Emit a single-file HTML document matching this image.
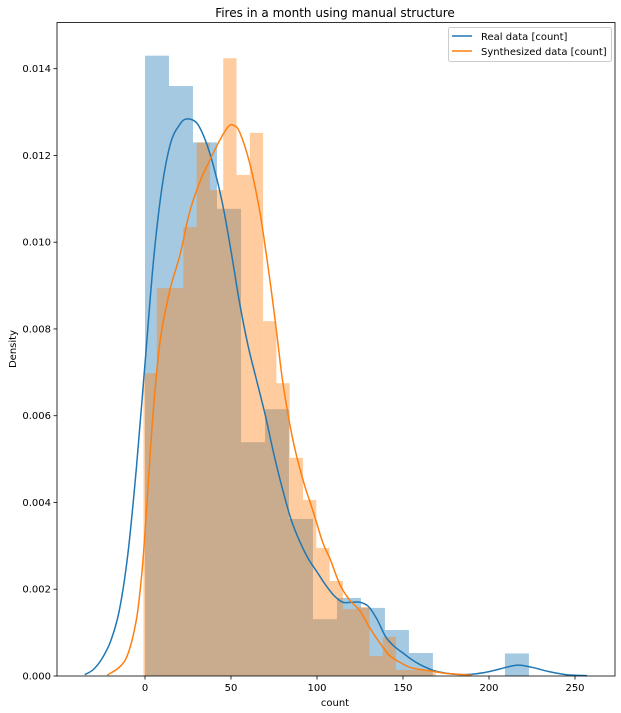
<!DOCTYPE html>
<html><head><meta charset="utf-8"><style>
body{margin:0;background:#fff;}
svg{display:block;font-family:"DejaVu Sans","Liberation Sans",sans-serif;}
</style></head><body>
<svg id="chart" width="621" height="713" xmlns="http://www.w3.org/2000/svg">
<rect x="0" y="0" width="621" height="713" fill="#fff"/>
<text x="335" y="17" text-anchor="middle" font-size="12">Fires in a month using manual structure</text>
<g id="bars"></g><g id="lines"></g><g id="axes"></g>
<text x="335" y="706" text-anchor="middle" font-size="10">count</text>
<text transform="translate(16,349) rotate(-90)" text-anchor="middle" font-size="10">Density</text>
<g>
<rect x="448.5" y="27.5" width="163" height="34" rx="2" fill="#fff" fill-opacity="0.8" stroke="#ccc"/>
<line x1="452" y1="36" x2="472" y2="36" stroke="#1f77b4" stroke-width="1.5"/>
<text x="481" y="40" font-size="10">Real data [count]</text>
<line x1="452" y1="51" x2="472" y2="51" stroke="#ff7f0e" stroke-width="1.5"/>
<text x="481" y="55" font-size="10">Synthesized data [count]</text>
</g>
</svg>
<script>
const realBinStart = 0, realBinWidth = 13.95;
const realHist = [0.0143,0.0136,0.0123,0.01077,0.00539,0.00615,0.00362,0.00131,0.0018,0.00157,0.00106,0.00053,0,0,0,0.00052];
const synthBinStart = -0.9, synthBinWidth = 7.73;
const synthHist = [0.00698,0.00894,0.00894,0.01035,0.0123,0.0112,0.01424,0.01155,0.01252,0.00818,0.00675,0.00503,0.00406,0.00295,0.00219,0.00154,0.00159,0.00046,0.0009,0.00014,0.00014,0.00014];
const realKdeX = [-35,-30,-25,-20,-15,-10,-5,0,5,10,15,20,24,30,35,40,45,50,55,60,65,70,75,80,85,90,95,100,105,110,115,120,125,130,135,140,145,150,155,160,165,170,180,190,200,210,217,225,235,245,257];
const realKdeY = [0.00003,0.00015,0.0004,0.0008,0.0015,0.0028,0.0048,0.0072,0.0096,0.0113,0.0123,0.0127,0.01284,0.01275,0.01236,0.01173,0.0109,0.0098,0.0086,0.0076,0.0068,0.006,0.0051,0.0043,0.0036,0.0031,0.0027,0.0024,0.0021,0.00185,0.0017,0.0017,0.0017,0.0016,0.0013,0.0009,0.00068,0.00053,0.00038,0.00026,0.00017,0.0001,0.00004,0.00004,0.0001,0.0002,0.00025,0.0002,0.0001,0.00003,0.00001];
const synthKdeX = [-22,-15,-10,-5,-2,0,2,4.6,8.7,14.5,20.3,26,32,37.8,43.6,48.3,51.2,55,61,66.9,72.7,76.6,80.2,86,92,97.7,103.5,107.6,113.4,119,125,130.8,136.6,142,148,154,160,165.7,175,190];
const synthKdeY = [0.00002,0.0002,0.0005,0.0013,0.0023,0.0033,0.0045,0.006,0.0077,0.0089,0.0097,0.0107,0.0114,0.0119,0.01236,0.01266,0.0127,0.01254,0.0118,0.01067,0.0091,0.0079,0.00675,0.00544,0.0045,0.0038,0.00306,0.0027,0.0021,0.00175,0.0015,0.0011,0.00076,0.00048,0.00032,0.0002,0.00015,0.00012,0.00006,0.00002];
const xTicks = [0,50,100,150,200,250];
const yTicks = [0,0.002,0.004,0.006,0.008,0.010,0.012,0.014];
const yTickLabels = ["0.000","0.002","0.004","0.006","0.008","0.010","0.012","0.014"];

const L=57, R=615, T=22.5, B=676;
function sx(v){return 145 + v*1.72;}
function sy(v){return 676 - v*43380;}
const NS="http://www.w3.org/2000/svg";
function mk(tag, attrs, parent){const e=document.createElementNS(NS,tag);for(const k in attrs)e.setAttribute(k,attrs[k]);parent.appendChild(e);return e;}
const bars=document.getElementById('bars'), lines=document.getElementById('lines'), axes=document.getElementById('axes');

realHist.forEach((h,i)=>{
  if(h<=0) return;
  const x0=sx(realBinStart+i*realBinWidth), x1=sx(realBinStart+(i+1)*realBinWidth);
  const r=mk('rect',{x:x0,y:sy(h),width:x1-x0,height:sy(0)-sy(h),fill:'#1f77b4','fill-opacity':0.4},bars);
  
  
});
synthHist.forEach((h,i)=>{
  if(h<=0) return;
  const x0=sx(synthBinStart+i*synthBinWidth), x1=sx(synthBinStart+(i+1)*synthBinWidth);
  const r=mk('rect',{x:x0,y:sy(h),width:x1-x0,height:sy(0)-sy(h),fill:'#ff7f0e','fill-opacity':0.4},bars);
  
  
});
function path(xs,ys){
  const p=xs.map((x,i)=>[sx(x),sy(ys[i])]);
  let d='M'+p[0][0]+','+p[0][1];
  for(let i=0;i<p.length-1;i++){
    const p0=p[Math.max(0,i-1)],p1=p[i],p2=p[i+1],p3=p[Math.min(p.length-1,i+2)];
    const c1x=p1[0]+(p2[0]-p0[0])/6,c1y=p1[1]+(p2[1]-p0[1])/6;
    const c2x=p2[0]-(p3[0]-p1[0])/6,c2y=p2[1]-(p3[1]-p1[1])/6;
    d+=' C'+c1x+','+c1y+' '+c2x+','+c2y+' '+p2[0]+','+p2[1];
  }
  return d;
}
const lr=mk('path',{d:path(realKdeX,realKdeY),fill:'none',stroke:'#1f77b4','stroke-width':1.5},lines);


const ls=mk('path',{d:path(synthKdeX,synthKdeY),fill:'none',stroke:'#ff7f0e','stroke-width':1.5},lines);



mk('rect',{x:L,y:T,width:R-L,height:B-T,fill:'none',stroke:'#000','stroke-width':0.8},axes);
xTicks.forEach(t=>{
  const x=sx(t);
  mk('line',{x1:x,y1:B,x2:x,y2:B+3.5,stroke:'#000','stroke-width':0.8},axes);
  const tx=mk('text',{x:x,y:B+15,'text-anchor':'middle','font-size':10},axes);
  tx.textContent=t;
  
  
});
yTicks.forEach((t,i)=>{
  const y=sy(t);
  mk('line',{x1:L,y1:y,x2:L-3.5,y2:y,stroke:'#000','stroke-width':0.8},axes);
  const tx=mk('text',{x:L-6,y:y+3.5,'text-anchor':'end','font-size':10},axes);
  tx.textContent=yTickLabels[i];
  
  
});
</script>
</body></html>
